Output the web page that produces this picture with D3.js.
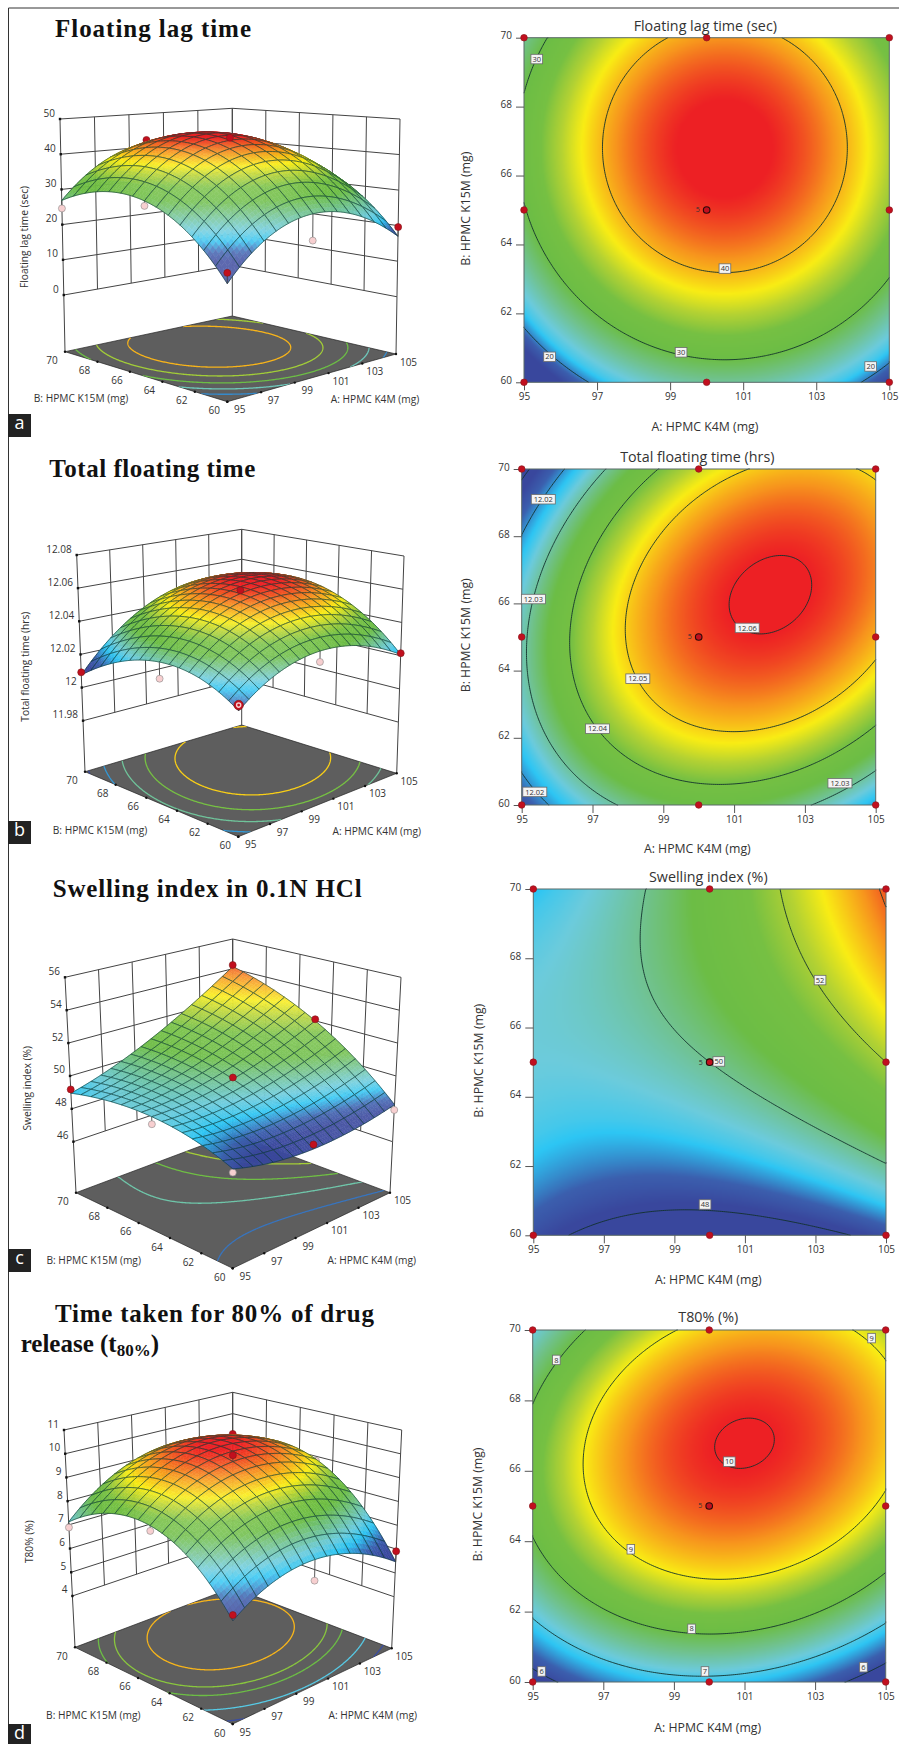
<!DOCTYPE html>
<html>
<head>
<meta charset="utf-8">
<script src="https://cdn.jsdelivr.net/npm/d3@7"></script>
<style>
  html, body { margin: 0; padding: 0; background: #fff; }
  svg { display: block; }
  text { font-family: "Open Sans", sans-serif; fill: #333; }
  .heading { font-family: "Liberation Serif", serif; font-weight: bold; font-size: 25px; fill: #111; }
</style>
</head>
<body>
<svg id="page" width="899" height="1744"></svg>
<script>
// response values, rows go B = 60 .. 70, columns A = 95 .. 105
const gridA = [95, 97, 99, 101, 103, 105];
const gridB = [60, 62, 64, 66, 68, 70];

const floatingLag = [
    [12.29, 20.79, 25.51, 26.45, 23.62, 17.01],
    [21.69, 30.19, 34.91, 35.85, 33.02, 26.41],
    [27.84, 36.34, 41.06, 42.00, 39.17, 32.56],
    [30.76, 39.26, 43.98, 44.92, 42.09, 35.48],
    [30.44, 38.94, 43.66, 44.60, 41.77, 35.16],
    [26.87, 35.37, 40.09, 41.03, 38.20, 31.59]
];
const totalFloating = [
    [12.0146, 12.0270, 12.0338, 12.0350, 12.0307, 12.0207],
    [12.0244, 12.0382, 12.0464, 12.0490, 12.0461, 12.0375],
    [12.0286, 12.0438, 12.0534, 12.0574, 12.0559, 12.0487],
    [12.0272, 12.0438, 12.0548, 12.0602, 12.0601, 12.0543],
    [12.0202, 12.0382, 12.0506, 12.0574, 12.0587, 12.0543],
    [12.0076, 12.0270, 12.0408, 12.0490, 12.0517, 12.0487]
];
const swellingIndex = [
    [48.252, 47.804, 47.580, 47.580, 47.804, 48.252],
    [48.903, 48.663, 48.647, 48.855, 49.287, 49.943],
    [49.298, 49.266, 49.458, 49.874, 50.514, 51.378],
    [49.438, 49.614, 50.014, 50.638, 51.486, 52.558],
    [49.321, 49.705, 50.313, 51.145, 52.201, 53.481],
    [48.950, 49.542, 50.358, 51.398, 52.662, 54.150]
];
const t80 = [
    [5.690, 6.456, 6.817, 6.772, 6.322, 5.466],
    [7.112, 7.951, 8.385, 8.413, 8.036, 7.253],
    [7.966, 8.878, 9.385, 9.486, 9.182, 8.472],
    [8.252, 9.238, 9.818, 9.992, 9.761, 9.124],
    [7.971, 9.029, 9.682, 9.930, 9.771, 9.208],
    [7.121, 8.252, 8.978, 9.299, 9.214, 8.723]
];

// design points [A, B, measured]
const runsLag = [[95,60,14.9],[105,60,19.6],[95,70,24.6],[100,60,19.5],[95,65,28.4],[100,65,44.6],[100,70,42.1],[105,65,33],[105,70,30]];
const runsFloating = [[95,60,12.0176],[105,60,12.0215],[95,70,12.0092],[95,65,12.0193],[100,60,12.029],[100,65,12.0598],[100,70,12.043],[105,65,12.05],[105,70,12.04]];
const runsSwelling = [[105,70,54.25],[105,65,52.1],[100,65,50.1],[95,70,49.18],[95,65,48.97],[105,60,47.93],[100,60,47.81],[95,60,48.05],[100,70,50.5]];
const runsT80 = [[95,60,5.91],[105,60,5.91],[95,70,6.89],[95,65,7.97],[100,60,6.01],[100,65,10.06],[105,70,9.05],[100,70,8.7],[105,65,8.8]];

// contour labels on the 2D plots [A, B, text]
const labelsLag = [[95.35,69.38,"30"],[100.5,63.3,"40"],[99.3,60.87,"30"],[95.7,60.74,"20"],[104.49,60.46,"20"]];
const labelsFloating = [[95.61,69.1,"12.02"],[95.33,66.13,"12.03"],[98.28,63.76,"12.05"],[97.14,62.27,"12.04"],[95.37,60.39,"12.02"],[103.99,60.65,"12.03"],[101.37,65.27,"12.06"]];
const labelsSwelling = [[103.13,67.37,"52"],[100.26,65.02,"50"],[99.87,60.89,"48"]];
const labelsT80 = [[95.67,69.15,"8"],[104.6,69.77,"9"],[100.57,66.26,"10"],[97.78,63.77,"9"],[99.5,61.51,"8"],[99.88,60.3,"7"],[95.25,60.3,"6"],[104.37,60.42,"6"]];

const levels2dLag = [20, 30, 40];
const levels2dFloating = [12.01, 12.02, 12.03, 12.04, 12.05, 12.06];
const levels2dSwelling = [48, 50, 52, 54];
const levels2dT80 = [6, 7, 8, 9, 10];

const levelsFloorLag = [20, 25, 30, 35, 40];
const levelsFloorFloating = [12.01, 12.02, 12.03, 12.04, 12.05];
const levelsFloorSwelling = [48.6, 49.8, 50.9, 52, 53.1];
const levelsFloorT80 = [6, 7, 8, 8.5, 9.3];

const ticksA = [95, 97, 99, 101, 103, 105];
const ticksB = [60, 62, 64, 66, 68, 70];
const designA = [95, 100, 105];
const designB = [60, 65, 70];

const rampStops = [0, 0.1, 0.22, 0.3, 0.4, 0.5, 0.6, 0.68, 0.75, 0.87, 1];
const rampColors = ["#39479d", "#3b5fae", "#2dc6f4", "#6ccbdc", "#70c28f", "#6cbd45", "#76c043", "#b4d233", "#f9ed14", "#f7941d", "#ed2024"];
const colorRamp = d3.scaleLinear().domain(rampStops).range(rampColors).clamp(true);

const panels = [
    {
        letter: "a", letterY: 414, field: floatingLag, runs: runsLag, labels: labelsLag, levels2d: levels2dLag, levelsFloor: levelsFloorLag,
        colorDomain: [17, 22, 30, 38, 44.5], title: "Floating lag time (sec)", zTitle: "Floating lag time (sec)", mesh: 14,
        zTicks: [0, 10, 20, 30, 40, 50], w0: 0.2436,
        box: {F: [227.3, 401.7], L: [65, 351.7], R: [396, 354], K: [232.3, 316], Ft: [227.3, 127], Lt: [60, 119], Rt: [400, 119], Kt: [232.3, 108.3]},
        zTitlePos: [24, 237], aTitlePos: [375, 399.5], bTitlePos: [81, 398],
        plot: {l: 524, r: 889.3, t: 37.7, b: 382.3}, titleY: 25.7, titleX: 705.3, aX: 705, aY: 426.7, bX: 466, bY: 208.7
    },
    {
        letter: "b", letterY: 821, field: totalFloating, runs: runsFloating, labels: labelsFloating, levels2d: levels2dFloating, levelsFloor: levelsFloorFloating,
        colorDomain: [12.012, 12.024, 12.035, 12.048, 12.06], title: "Total floating time (hrs)", zTitle: "Total floating time (hrs)", mesh: 16,
        zTicks: [11.98, 12, 12.02, 12.04, 12.06, 12.08], w0: 0.2354, ring: true,
        box: {F: [238.3, 836.7], L: [85, 771.7], R: [396.7, 773.3], K: [241.7, 725], Ft: [239, 585], Lt: [76.7, 555], Rt: [404, 556], Kt: [241.7, 529.3]},
        zTitlePos: [25, 666.7], aTitlePos: [376.7, 831.7], bTitlePos: [100, 830],
        plot: {l: 521.7, r: 875.7, t: 469, b: 805}, titleY: 456.7, titleX: 697.3, aX: 697.3, aY: 848.3, bX: 465.7, bY: 635.3
    },
    {
        letter: "c", letterY: 1249, field: swellingIndex, runs: runsSwelling, labels: labelsSwelling, levels2d: levels2dSwelling, levelsFloor: levelsFloorSwelling,
        colorDomain: [48.1, 49.1, 50.6, 52.8, 54.6], title: "Swelling index (%)", zTitle: "Swelling index (%)", mesh: 16,
        zTicks: [46, 48, 50, 52, 54, 56], w0: 0.2368,
        box: {F: [232.7, 1268.3], L: [76, 1192.7], R: [390, 1192.7], K: [232.7, 1134], Ft: [233, 1025], Lt: [65, 977.3], Rt: [401, 977.3], Kt: [232.7, 939]},
        zTitlePos: [27.3, 1088.3], aTitlePos: [371.7, 1260], bTitlePos: [93.7, 1260],
        plot: {l: 533.3, r: 886, t: 889, b: 1235.3}, titleY: 877.3, titleX: 708.3, aX: 708.3, aY: 1280, bX: 478.3, bY: 1060.8
    },
    {
        letter: "d", letterY: 1724, field: t80, runs: runsT80, labels: labelsT80, levels2d: levels2dT80, levelsFloor: levelsFloorT80,
        colorDomain: [5.9, 6.9, 8, 9, 10], title: "T80% (%)", zTitle: "T80% (%)", mesh: 14,
        zTicks: [4, 5, 6, 7, 8, 9, 10, 11], w0: 0.2362,
        box: {F: [232.7, 1724], L: [75, 1647.3], R: [391.7, 1648.3], K: [232.7, 1587.7], Ft: [233, 1479], Lt: [64, 1430], Rt: [401.7, 1430], Kt: [232.7, 1392.3]},
        zTitlePos: [29.3, 1541.7], aTitlePos: [372.7, 1715.3], bTitlePos: [93.3, 1715.3],
        plot: {l: 532.7, r: 885.7, t: 1330, b: 1682}, titleY: 1317.3, titleX: 708.3, aX: 707.7, aY: 1727.3, bX: 477.3, bY: 1504.5
    }
];

const svg = d3.select("#page");
const FINE = 181;
const SUB = 4;

//catmull-rom through one row, the outside knots keep the curvature of the edge
function spline(p, t) {
    const last = p.length - 1;
    const i = Math.min(Math.floor(t), last - 1), f = t - i;
    const a = i > 0 ? p[i - 1] : 3 * p[0] - 3 * p[1] + p[2];
    const b = p[i], c = p[i + 1];
    const d = i < last - 1 ? p[i + 2] : 3 * p[last] - 3 * p[last - 1] + p[last - 2];
    return 0.5 * (2 * b + (c - a) * f + (2 * a - 5 * b + 4 * c - d) * f * f + (3 * b - a - 3 * c + d) * f * f * f);
}

const gridIndexA = d3.scaleLinear().domain([gridA[0], gridA[5]]).range([0, 5]);
const gridIndexB = d3.scaleLinear().domain([gridB[0], gridB[5]]).range([0, 5]);

function fieldAt(field, a, b) {
    const ta = gridIndexA(a), tb = gridIndexB(b);
    return spline(field.map(row => spline(row, ta)), tb);
}

//contours on the fine raster, returned as open lines without the frame segments
function contourLines(field, levels) {
    const values = new Float64Array(FINE * FINE);
    const fineA = d3.scaleLinear().domain([0, FINE - 1]).range([95, 105]);
    const fineB = d3.scaleLinear().domain([0, FINE - 1]).range([60, 70]);
    for (let j = 0; j < FINE; j++) {
        for (let i = 0; i < FINE; i++) {
            values[j * FINE + i] = fieldAt(field, fineA(i), fineB(j));
        }
    }
    const sets = d3.contours().size([FINE, FINE]).thresholds(levels)(values);
    const onEdge = (p, q) => (p[0] === 0 && q[0] === 0) || (p[1] === 0 && q[1] === 0) ||
        (p[0] === FINE && q[0] === FINE) || (p[1] === FINE && q[1] === FINE);
    const toData = p => [fineA.clamp(true)(p[0] - 0.5), fineB.clamp(true)(p[1] - 0.5)];
    const out = [];
    sets.forEach(set => {
        const pieces = [];
        set.coordinates.forEach(poly => poly.forEach(ring => {
            let line = [];
            for (let k = 0; k < ring.length - 1; k++) {
                if (onEdge(ring[k], ring[k + 1])) {
                    if (line.length > 1) pieces.push(line);
                    line = [];
                } else {
                    if (!line.length) line.push(toData(ring[k]));
                    line.push(toData(ring[k + 1]));
                }
            }
            if (line.length > 1) pieces.push(line);
        }));
        out.push({value: set.value, pieces: pieces});
    });
    return out;
}

function makeColor(panel) {
    const t = d3.scaleLinear().domain(panel.colorDomain).range([0, 0.25, 0.5, 0.75, 1]).clamp(true);
    return v => colorRamp(t(v));
}

function tickText(v) {
    return String(+v.toFixed(2));
}

/* ---------- 2D contour plot ---------- */
function drawContourPlot(panel) {
    const p = panel.plot;
    const color = makeColor(panel);
    const x = d3.scaleLinear().domain([95, 105]).range([p.l, p.r]);
    const y = d3.scaleLinear().domain([60, 70]).range([p.b, p.t]);
    const g = svg.append("g");

    const canvas = document.createElement("canvas");
    canvas.width = FINE;
    canvas.height = FINE;
    const ctx = canvas.getContext("2d");
    const px = ctx.createImageData(FINE, FINE);
    const colA = d3.scaleLinear().domain([0, FINE - 1]).range([95, 105]);
    const rowB = d3.scaleLinear().domain([0, FINE - 1]).range([70, 60]);
    for (let j = 0; j < FINE; j++) {
        for (let i = 0; i < FINE; i++) {
            const c = d3.rgb(color(fieldAt(panel.field, colA(i), rowB(j))));
            const o = (j * FINE + i) * 4;
            px.data[o] = c.r; px.data[o + 1] = c.g; px.data[o + 2] = c.b; px.data[o + 3] = 255;
        }
    }
    ctx.putImageData(px, 0, 0);
    g.append("image").attr("href", canvas.toDataURL())
        .attr("x", p.l).attr("y", p.t).attr("width", p.r - p.l).attr("height", p.b - p.t)
        .attr("preserveAspectRatio", "none");

    const line = d3.line().x(d => x(d[0])).y(d => y(d[1]));
    contourLines(panel.field, panel.levels2d).forEach(set => {
        g.selectAll(null).data(set.pieces).enter().append("path")
            .attr("d", line).attr("fill", "none").attr("stroke", "#12312c").attr("stroke-width", 0.9);
    });

    g.append("rect").attr("x", p.l).attr("y", p.t).attr("width", p.r - p.l).attr("height", p.b - p.t)
        .attr("fill", "none").attr("stroke", "#5b6a68").attr("stroke-width", 1);

    const ax = g.append("g").attr("transform", "translate(0," + p.b + ")")
        .call(d3.axisBottom(x).tickValues(ticksA).tickSize(8).tickPadding(3));
    const ay = g.append("g").attr("transform", "translate(" + p.l + ",0)")
        .call(d3.axisLeft(y).tickValues(ticksB).tickSize(8).tickPadding(4));
    [ax, ay].forEach(a => {
        a.select(".domain").remove();
        a.selectAll("line").attr("stroke", "#555");
        a.selectAll("text").attr("font-size", 10).attr("font-family", '"Open Sans", sans-serif').attr("fill", "#333");
    });
    ay.selectAll("text").attr("dy", "0.1em");

    panel.labels.forEach(d => {
        const w = d[2].length * 4.1 + 3.5, h = 9.5;
        const lab = g.append("g").attr("transform", "translate(" + x(d[0]) + "," + y(d[1]) + ")");
        lab.append("rect").attr("x", -w / 2).attr("y", -h / 2).attr("width", w).attr("height", h)
            .attr("fill", "#f4f4f4").attr("stroke", "#6b6b6b").attr("stroke-width", 0.8);
        lab.append("text").attr("text-anchor", "middle").attr("dy", "0.35em").attr("font-size", 7.5).text(d[2]);
    });

    designB.forEach(b => designA.forEach(a => {
        const center = a === 100 && b === 65;
        g.append("circle").attr("cx", x(a)).attr("cy", y(b)).attr("r", 3.3)
            .attr("fill", "#c20f1e").attr("stroke", center ? "#2a0a0a" : "#8e1a20").attr("stroke-width", center ? 1.1 : 0.7);
    }));
    g.append("text").attr("x", x(100) - 9).attr("y", y(65)).attr("dy", "0.35em")
        .attr("font-size", 7).attr("text-anchor", "middle").text("5");

    g.append("text").attr("x", panel.titleX).attr("y", panel.titleY).attr("dy", "0.35em")
        .attr("text-anchor", "middle").attr("font-size", 14.3).text(panel.title);
    g.append("text").attr("x", panel.aX).attr("y", panel.aY).attr("dy", "0.35em")
        .attr("text-anchor", "middle").attr("font-size", 12.3).text("A: HPMC K4M (mg)");
    g.append("text").attr("transform", "translate(" + panel.bX + "," + panel.bY + ") rotate(-90)")
        .attr("dy", "0.35em").attr("text-anchor", "middle").attr("font-size", 12.3).text("B: HPMC K15M (mg)");
}

/* ---------- 3D response surface ---------- */
function drawSurface(panel) {
    const b = panel.box;
    const color = makeColor(panel);
    const zExtent = d3.extent(panel.zTicks);
    const uOf = d3.scaleLinear().domain([95, 105]).range([0, 1]);
    const vOf = d3.scaleLinear().domain([60, 70]).range([0, 1]);
    const wOf = d3.scaleLinear().domain(zExtent).range([panel.w0, 1]);

    function project(u, v, w) {
        const mix = (f, l, r, k) => (1 - u) * (1 - v) * f + (1 - u) * v * l + u * (1 - v) * r + u * v * k;
        const fx = mix(b.F[0], b.L[0], b.R[0], b.K[0]), fy = mix(b.F[1], b.L[1], b.R[1], b.K[1]);
        const tx = mix(b.Ft[0], b.Lt[0], b.Rt[0], b.Kt[0]), ty = mix(b.Ft[1], b.Lt[1], b.Rt[1], b.Kt[1]);
        return [fx + (tx - fx) * w, fy + (ty - fy) * w];
    }
    const at = (a, bb, z) => project(uOf(a), vOf(bb), z === null ? 0 : wOf(z));
    const line = d3.line();
    const g = svg.append("g");

    // floor
    g.append("path").attr("d", line([b.F, b.L, b.K, b.R]) + "Z").attr("fill", "#5e5e5e")
        .attr("stroke", "#222").attr("stroke-width", 0.7);
    const floorClip = "floor" + panel.letter;
    g.append("clipPath").attr("id", floorClip).append("path").attr("d", line([b.F, b.L, b.K, b.R]) + "Z");
    contourLines(panel.field, panel.levelsFloor).forEach(set => {
        g.selectAll(null).data(set.pieces).enter().append("path")
            .attr("clip-path", "url(#" + floorClip + ")")
            .attr("d", d => line(d.map(q => at(q[0], q[1], null))))
            .attr("fill", "none").attr("stroke", color(set.value)).attr("stroke-width", 1.3);
    });

    // walls
    const wall = g.append("g").attr("fill", "none").attr("stroke", "#444").attr("stroke-width", 1);
    const addLine = (p, q) => wall.append("path").attr("d", line([p, q]));
    ticksA.forEach(a => addLine(at(a, 70, zExtent[0]), at(a, 70, zExtent[1])));
    ticksB.forEach(bb => addLine(at(105, bb, zExtent[0]), at(105, bb, zExtent[1])));
    panel.zTicks.forEach(z => {
        addLine(at(95, 70, z), at(105, 70, z));
        addLine(at(105, 70, z), at(105, 60, z));
    });
    addLine(b.L, at(95, 70, zExtent[0]));
    addLine(b.K, at(105, 70, zExtent[0]));
    addLine(b.R, at(105, 60, zExtent[0]));

    // floor ticks and labels
    ticksB.forEach(bb => {
        const q = at(95, bb, null);
        g.append("circle").attr("cx", q[0]).attr("cy", q[1]).attr("r", 1.2).attr("fill", "#111");
        g.append("text").attr("x", q[0] - 13).attr("y", q[1] + 9).attr("dy", "0.35em")
            .attr("text-anchor", "middle").attr("font-size", 10).text(bb);
    });
    ticksA.forEach(a => {
        const q = at(a, 60, null);
        g.append("circle").attr("cx", q[0]).attr("cy", q[1]).attr("r", 1.2).attr("fill", "#111");
        g.append("text").attr("x", q[0] + 12.5).attr("y", q[1] + 8).attr("dy", "0.35em")
            .attr("text-anchor", "middle").attr("font-size", 10).text(a);
    });
    panel.zTicks.forEach(z => {
        const q = at(95, 70, z);
        g.append("rect").attr("x", q[0] - 1.2).attr("y", q[1] - 1.2).attr("width", 2.4).attr("height", 2.4).attr("fill", "#111");
        g.append("text").attr("x", q[0] - 5).attr("y", q[1] - 6).attr("dy", "0.35em")
            .attr("text-anchor", "end").attr("font-size", 10).text(tickText(z));
    });

    // surface cells and design points, far corner first
    const items = [];
    const MESH = panel.mesh;
    const step = 1 / MESH, fine = step / SUB;
    const dataA = d3.scaleLinear().domain([0, 1]).range([95, 105]);
    const dataB = d3.scaleLinear().domain([0, 1]).range([60, 70]);
    const height = (u, v) => fieldAt(panel.field, dataA(u), dataB(v));
    for (let i = 0; i < MESH; i++) {
        for (let j = 0; j < MESH; j++) {
            items.push({kind: "cell", i: i, j: j, key: (i + 0.5) * step + (j + 0.5) * step});
        }
    }
    panel.runs.forEach((r, idx) => {
        const u = uOf(r[0]), v = vOf(r[1]);
        const surf = height(u, v);
        const above = r[2] >= surf;
        items.push({kind: "run", r: r, surf: surf, above: above, idx: idx, key: u + v + (above ? -0.09 : 0.09)});
    });
    items.sort((p, q) => q.key - p.key);

    const lightLen = Math.hypot(0.5, 0.5, 0.7);
    function shade(u, v, c) {
        const d = 0.01;
        const wz = (uu, vv) => wOf(height(uu, vv));
        const du = (wz(u + d / 2, v) - wz(u - d / 2, v)) / d;
        const dv = (wz(u, v + d / 2) - wz(u, v - d / 2)) / d;
        const len = Math.hypot(du, dv, 1);
        const s = (du * 0.5 + dv * 0.5 + 0.7) / (len * lightLen);
        if (s > 0.8) return d3.interpolateRgb(c, "#ffffff")(Math.min(0.22, (s - 0.8) * 0.9));
        if (s < 0.6) return d3.interpolateRgb(c, "#0a2030")(Math.min(0.4, (0.6 - s) * 0.9));
        return c;
    }

    const surface = g.append("g");
    items.forEach(it => {
        if (it.kind === "cell") {
            const u0 = it.i * step, v0 = it.j * step;
            for (let m = SUB - 1; m >= 0; m--) {
                for (let n = SUB - 1; n >= 0; n--) {
                    const ua = u0 + m * fine, va = v0 + n * fine, ub = ua + fine, vb = va + fine;
                    const corner = (uu, vv) => project(uu, vv, wOf(height(uu, vv)));
                    const cu = (ua + ub) / 2, cv = (va + vb) / 2;
                    const fill = shade(cu, cv, color(height(cu, cv)));
                    surface.append("path")
                        .attr("d", line([corner(ua, va), corner(ub, va), corner(ub, vb), corner(ua, vb)]) + "Z")
                        .attr("fill", fill).attr("stroke", fill).attr("stroke-width", 0.5);
                }
            }
            const edge = [];
            for (let s = 0; s <= SUB; s++) edge.push([u0 + s * fine, v0]);
            for (let s = 1; s <= SUB; s++) edge.push([u0 + step, v0 + s * fine]);
            for (let s = 1; s <= SUB; s++) edge.push([u0 + step - s * fine, v0 + step]);
            for (let s = 1; s <= SUB; s++) edge.push([u0, v0 + step - s * fine]);
            surface.append("path")
                .attr("d", line(edge.map(q => project(q[0], q[1], wOf(height(q[0], q[1]))))))
                .attr("fill", "none").attr("stroke", "#0c3a34").attr("stroke-opacity", 0.88).attr("stroke-width", 0.7);
        } else {
            const r = it.r;
            const q = at(r[0], r[1], r[2]);
            const top = at(r[0], r[1], it.surf);
            surface.append("path").attr("d", line([q, top])).attr("stroke", "#444").attr("stroke-width", 0.9);
            surface.append("circle").attr("cx", q[0]).attr("cy", q[1]).attr("r", panel.ring && it.idx === 0 ? 4.8 : 3.5)
                .attr("fill", it.above ? "#c20f1e" : "#f7cfd0")
                .attr("stroke", it.above ? "#7d1a1a" : "#8a8a8a").attr("stroke-width", 0.6);
            if (panel.ring && it.idx === 0) {
                surface.append("circle").attr("cx", q[0]).attr("cy", q[1]).attr("r", 2.8).attr("fill", "#f7cfd0");
                surface.append("circle").attr("cx", q[0]).attr("cy", q[1]).attr("r", 1.4).attr("fill", "#c20f1e");
            }
        }
    });

    g.append("text").attr("transform", "translate(" + panel.zTitlePos[0] + "," + panel.zTitlePos[1] + ") rotate(-90)")
        .attr("dy", "0.35em").attr("text-anchor", "middle").attr("font-size", 10.2).text(panel.zTitle);
    g.append("text").attr("x", panel.aTitlePos[0]).attr("y", panel.aTitlePos[1]).attr("dy", "0.35em")
        .attr("text-anchor", "middle").attr("font-size", 10.2).text("A: HPMC K4M (mg)");
    g.append("text").attr("x", panel.bTitlePos[0]).attr("y", panel.bTitlePos[1]).attr("dy", "0.35em")
        .attr("text-anchor", "middle").attr("font-size", 10.2).text("B: HPMC K15M (mg)");
}

/* ---------- page furniture ---------- */
const headings = [
    {text: "Floating lag time", x: 55, y: 36.5, len: 196},
    {text: "Total floating time", x: 49.3, y: 477, len: 206},
    {text: "Swelling index in 0.1N HCl", x: 52.7, y: 896.7, len: 309},
    {text: "Time taken for 80% of drug", x: 55, y: 1321.7, len: 319}
];

svg.append("rect").attr("width", 899).attr("height", 1744).attr("fill", "#fff");
svg.append("path").attr("d", "M899,8H8.5V1744").attr("fill", "none").attr("stroke", "#333").attr("stroke-width", 1);

headings.forEach(h => {
    svg.append("text").attr("class", "heading").attr("x", h.x).attr("y", h.y)
        .attr("textLength", h.len).attr("lengthAdjust", "spacing").text(h.text);
});
const release = svg.append("text").attr("class", "heading").attr("x", 20.7).attr("y", 1352.3);
release.append("tspan").text("release (t");
release.append("tspan").attr("font-size", 17).attr("dy", 4).text("80%");
release.append("tspan").attr("dy", -4).text(")");

panels.forEach(panel => {
    drawSurface(panel);
    drawContourPlot(panel);
    svg.append("rect").attr("x", 8).attr("y", panel.letterY).attr("width", 23).attr("height", Math.min(23, 1744 - panel.letterY)).attr("fill", "#222");
    svg.append("text").attr("x", 19.5).attr("y", panel.letterY + 15).attr("text-anchor", "middle")
        .attr("font-size", 18).style("fill", "#fff").text(panel.letter);
});
</script>
</body>
</html>
